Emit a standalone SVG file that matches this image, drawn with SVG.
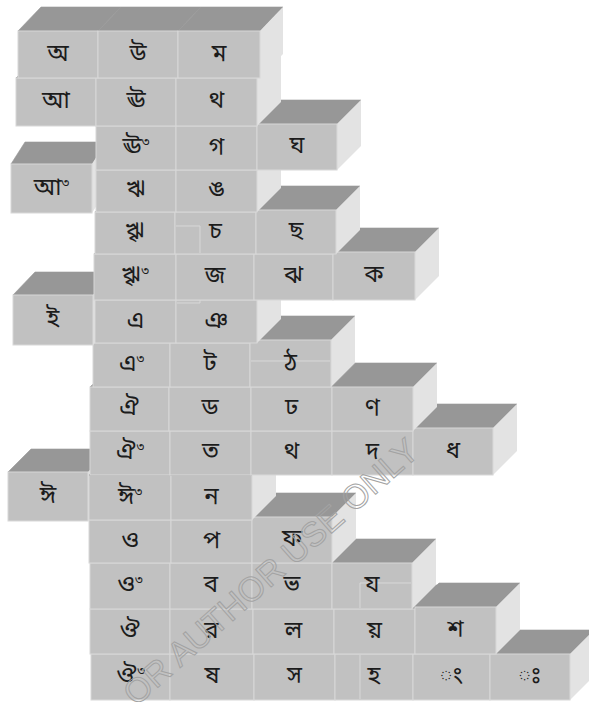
<svg xmlns="http://www.w3.org/2000/svg" width="589" height="702" viewBox="0 0 589 702">
<style>
.t{fill:#979797;stroke:#979797;stroke-width:0.6;stroke-linejoin:round}
.r{fill:#e3e3e3}
.f{fill:#c1c1c1;stroke:#d8d8d8;stroke-width:1}
.a{fill:none;stroke:#d8d8d8;stroke-width:1}
.l{font-family:"Noto Sans Bengali","Noto Serif Bengali","Lohit Bengali","Mukti","FreeSerif","Noto Sans",sans-serif;font-size:24px;fill:#1c1c1c;text-anchor:middle}
.s{font-size:13px}
.wm{font-family:"Liberation Sans",Arial,sans-serif;font-size:34px;fill:none;stroke:#a3a3a3;stroke-width:1}
</style>
<rect width="589" height="702" fill="#ffffff"/>
<!-- Row 15 -->
<g id="r15c1"><polygon class="t" points="91,654 170,654 194,630 115,630"/><rect class="f" x="91" y="654" width="79" height="46"/><text class="l" x="130.5" y="683">ঔ<tspan class="s" dy="-8">৩</tspan></text></g>
<g id="r15c2"><polygon class="t" points="170,654 254,654 278,630 194,630"/><rect class="f" x="170" y="654" width="84" height="46"/><text class="l" x="212" y="683">ষ</text></g>
<g id="r15c3"><polygon class="t" points="254,654 335,654 359,630 278,630"/><rect class="f" x="254" y="654" width="81" height="46"/><text class="l" x="294.5" y="683">স</text></g>
<g id="r15c4"><polygon class="t" points="335,654 413,654 437,630 359,630"/><rect class="f" x="335" y="654" width="78" height="46"/><line class="a" x1="360" y1="655" x2="360" y2="699"/><text class="l" x="374" y="683">হ</text></g>
<g id="r15c5"><polygon class="t" points="413,654 490,654 514,630 437,630"/><rect class="f" x="413" y="654" width="77" height="46"/><text class="l" x="451.5" y="683">◌ং</text></g>
<g id="r15c6"><polygon class="t" points="490,654 570,654 594,630 514,630"/><polygon class="r" points="570,654 594,630 594,676 570,700"/><rect class="f" x="490" y="654" width="80" height="46"/><text class="l" x="530" y="683">◌ঃ</text></g>
<!-- Row 14 -->
<g id="r14c1"><polygon class="t" points="90,609 170,609 194,585 114,585"/><rect class="f" x="90" y="609" width="80" height="45"/><text class="l" x="130" y="637.5">ঔ</text></g>
<g id="r14c2"><polygon class="t" points="170,609 253,609 277,585 194,585"/><rect class="f" x="170" y="609" width="83" height="45"/><text class="l" x="211.5" y="637.5">র</text></g>
<g id="r14c3"><polygon class="t" points="253,609 334,609 358,585 277,585"/><rect class="f" x="253" y="609" width="81" height="45"/><text class="l" x="293.5" y="637.5">ল</text></g>
<g id="r14c4"><polygon class="t" points="334,609 415,609 439,585 358,585"/><rect class="f" x="334" y="609" width="81" height="45"/><text class="l" x="374.5" y="637.5">য়</text></g>
<g id="r14c5"><polygon class="t" points="415,607 496,607 520,583 439,583"/><polygon class="r" points="496,607 520,583 520,630 496,654"/><rect class="f" x="415" y="607" width="81" height="47"/><text class="l" x="455.5" y="636.5">শ</text></g>
<!-- Row 13 -->
<g id="r13c1"><polygon class="t" points="90,563 170,563 194,539 114,539"/><rect class="f" x="90" y="563" width="80" height="46"/><text class="l" x="130" y="592">ও<tspan class="s" dy="-8">৩</tspan></text></g>
<g id="r13c2"><polygon class="t" points="170,563 252,563 276,539 194,539"/><rect class="f" x="170" y="563" width="82" height="46"/><text class="l" x="211" y="592">ব</text></g>
<g id="r13c3"><polygon class="t" points="252,563 332,563 356,539 276,539"/><rect class="f" x="252" y="563" width="80" height="46"/><text class="l" x="292" y="592">ভ</text></g>
<g id="r13c4"><polygon class="t" points="332,563 412,563 436,539 356,539"/><polygon class="r" points="412,563 436,539 436,585 412,609"/><rect class="f" x="332" y="563" width="80" height="46"/><polyline class="a" points="360,608 360,583 411,583"/><text class="l" x="372" y="592">য</text></g>
<!-- Row 12 -->
<g id="r12c1"><polygon class="t" points="89,520 171,520 195,496 113,496"/><rect class="f" x="89" y="520" width="82" height="43"/><text class="l" x="130" y="547.5">ও</text></g>
<g id="r12c2"><polygon class="t" points="171,520 252,520 276,496 195,496"/><rect class="f" x="171" y="520" width="81" height="43"/><text class="l" x="211.5" y="547.5">প</text></g>
<g id="r12c3"><polygon class="t" points="252,517 332,517 356,493 276,493"/><polygon class="r" points="332,517 356,493 356,539 332,563"/><rect class="f" x="252" y="517" width="80" height="46"/><text class="l" x="292" y="546">ফ</text></g>
<!-- Row 11 -->
<g id="r11c0"><polygon class="t" points="8,472 88,472 111,449 31,449"/><polygon class="r" points="88,472 111,449 111,498 88,521"/><rect class="f" x="8" y="472" width="80" height="49"/><text class="l" x="48" y="502.5">ঈ</text></g>
<g id="r11c1"><polygon class="t" points="89,475 171,475 195,451 113,451"/><rect class="f" x="89" y="475" width="82" height="45"/><text class="l" x="130" y="503.5">ঈ<tspan class="s" dy="-8">৩</tspan></text></g>
<g id="r11c2"><polygon class="t" points="171,475 252,475 276,451 195,451"/><polygon class="r" points="252,475 276,451 276,496 252,520"/><rect class="f" x="171" y="475" width="81" height="45"/><text class="l" x="211.5" y="503.5">ন</text></g>
<line x1="89" y1="475" x2="252" y2="475" stroke="#8e8e8e" stroke-width="1.2"/>
<!-- Row 10 -->
<g id="r10c1"><polygon class="t" points="90,431 170,431 194,407 114,407"/><rect class="f" x="90" y="431" width="80" height="44"/><text class="l" x="130" y="459">ঐ<tspan class="s" dy="-8">৩</tspan></text></g>
<g id="r10c2"><polygon class="t" points="170,431 251,431 275,407 194,407"/><rect class="f" x="170" y="431" width="81" height="44"/><text class="l" x="210.5" y="459">ত</text></g>
<g id="r10c3"><polygon class="t" points="251,431 332,431 356,407 275,407"/><rect class="f" x="251" y="431" width="81" height="44"/><text class="l" x="291.5" y="459">থ</text></g>
<g id="r10c4"><polygon class="t" points="332,431 413,431 437,407 356,407"/><rect class="f" x="332" y="431" width="81" height="44"/><text class="l" x="372.5" y="459">দ</text></g>
<g id="r10c5"><polygon class="t" points="413,428 493,428 517,404 437,404"/><polygon class="r" points="493,428 517,404 517,451 493,475"/><rect class="f" x="413" y="428" width="80" height="47"/><text class="l" x="453" y="457.5">ধ</text></g>
<!-- Row 9 -->
<g id="r9c1"><polygon class="t" points="90,387 169,387 193,363 114,363"/><rect class="f" x="90" y="387" width="79" height="44"/><text class="l" x="129.5" y="415">ঐ</text></g>
<g id="r9c2"><polygon class="t" points="169,387 251,387 275,363 193,363"/><rect class="f" x="169" y="387" width="82" height="44"/><text class="l" x="210" y="415">ড</text></g>
<g id="r9c3"><polygon class="t" points="251,387 332,387 356,363 275,363"/><rect class="f" x="251" y="387" width="81" height="44"/><text class="l" x="291.5" y="415">ঢ</text></g>
<g id="r9c4"><polygon class="t" points="332,387 413,387 437,363 356,363"/><polygon class="r" points="413,387 437,363 437,407 413,431"/><rect class="f" x="332" y="387" width="81" height="44"/><text class="l" x="372.5" y="415">ণ</text></g>
<!-- Row 8 -->
<g id="r8c1"><polygon class="t" points="93,343 170,343 194,319 117,319"/><rect class="f" x="93" y="343" width="77" height="44"/><text class="l" x="131.5" y="371">এ<tspan class="s" dy="-8">৩</tspan></text></g>
<g id="r8c2"><polygon class="t" points="170,343 250,343 274,319 194,319"/><rect class="f" x="170" y="343" width="80" height="44"/><text class="l" x="210" y="371">ট</text></g>
<g id="r8c3"><polygon class="t" points="250,340 331,340 355,316 274,316"/><polygon class="r" points="331,340 355,316 355,363 331,387"/><rect class="f" x="250" y="340" width="81" height="47"/><line class="a" x1="251" y1="361" x2="330" y2="361"/><text class="l" x="290.5" y="369.5">ঠ</text></g>
<!-- Row 7 -->
<g id="r7c0"><polygon class="t" points="13,295 93,295 115,272 35,272"/><polygon class="r" points="93,295 115,272 115,322 93,345"/><rect class="f" x="13" y="295" width="80" height="50"/><text class="l" x="53" y="326">ই</text></g>
<g id="r7c1"><polygon class="t" points="95,300 176,300 200,276 119,276"/><rect class="f" x="95" y="300" width="81" height="43"/><text class="l" x="135.5" y="327.5">এ</text></g>
<g id="r7c2"><polygon class="t" points="176,300 257,300 281,276 200,276"/><polygon class="r" points="257,300 281,276 281,319 257,343"/><rect class="f" x="176" y="300" width="81" height="43"/><text class="l" x="216.5" y="327.5">ঞ</text></g>
<!-- Row 6 -->
<g id="r6c1"><polygon class="t" points="94,254 176,254 200,230 118,230"/><rect class="f" x="94" y="254" width="82" height="46"/><text class="l" x="135" y="283">ৠ<tspan class="s" dy="-8">৩</tspan></text></g>
<g id="r6c2"><polygon class="t" points="176,254 254,254 278,230 200,230"/><rect class="f" x="176" y="254" width="78" height="46"/><polyline class="a" points="177,303 200,303 200,300"/><text class="l" x="215" y="283">জ</text></g>
<g id="r6c3"><polygon class="t" points="254,254 333,254 357,230 278,230"/><rect class="f" x="254" y="254" width="79" height="46"/><text class="l" x="293.5" y="283">ঝ</text></g>
<g id="r6c4"><polygon class="t" points="333,252 415,252 439,228 357,228"/><polygon class="r" points="415,252 439,228 439,276 415,300"/><rect class="f" x="333" y="252" width="82" height="48"/><text class="l" x="374" y="282">ক</text></g>
<!-- Row 5 -->
<g id="r5c1"><polygon class="t" points="95,212 175,212 199,188 119,188"/><rect class="f" x="95" y="212" width="80" height="42"/><text class="l" x="135" y="239">ৠ</text></g>
<g id="r5c2"><polygon class="t" points="175,212 256,212 280,188 199,188"/><rect class="f" x="175" y="212" width="81" height="42"/><polyline class="a" points="176,226 200,226 200,253"/><text class="l" x="215.5" y="239">চ</text></g>
<g id="r5c3"><polygon class="t" points="256,210 336,210 360,186 280,186"/><polygon class="r" points="336,210 360,186 360,230 336,254"/><rect class="f" x="256" y="210" width="80" height="44"/><text class="l" x="296" y="238">ছ</text></g>
<!-- Row 4 -->
<g id="r4c0"><polygon class="t" points="11,164 92,164 106,142 25,142"/><polygon class="r" points="92,164 106,142 106,191 92,213"/><rect class="f" x="11" y="164" width="81" height="49"/><text class="l" x="51.5" y="194.5">আ<tspan class="s" dy="-8">৩</tspan></text></g>
<g id="r4c1"><polygon class="t" points="96,170 176,170 200,146 120,146"/><rect class="f" x="96" y="170" width="80" height="42"/><text class="l" x="136" y="197">ঋ</text></g>
<g id="r4c2"><polygon class="t" points="176,170 257,170 281,146 200,146"/><polygon class="r" points="257,170 281,146 281,188 257,212"/><rect class="f" x="176" y="170" width="81" height="42"/><text class="l" x="216.5" y="197">ঙ</text></g>
<!-- Row 3 -->
<g id="r3c1"><polygon class="t" points="96,126 176,126 200,102 120,102"/><rect class="f" x="96" y="126" width="80" height="44"/><text class="l" x="136" y="154">ঊ<tspan class="s" dy="-8">৩</tspan></text></g>
<g id="r3c2"><polygon class="t" points="176,126 257,126 281,102 200,102"/><rect class="f" x="176" y="126" width="81" height="44"/><text class="l" x="216.5" y="154">গ</text></g>
<g id="r3c3"><polygon class="t" points="257,124 337,124 361,100 281,100"/><polygon class="r" points="337,124 361,100 361,146 337,170"/><rect class="f" x="257" y="124" width="80" height="46"/><text class="l" x="297" y="153">ঘ</text></g>
<!-- Row 2 -->
<g id="r2c1"><polygon class="t" points="16,78 96,78 120,54 40,54"/><rect class="f" x="16" y="78" width="80" height="48"/><text class="l" x="56" y="108">আ</text></g>
<g id="r2c2"><polygon class="t" points="96,78 176,78 200,54 120,54"/><rect class="f" x="96" y="78" width="80" height="48"/><text class="l" x="136" y="108">ঊ</text></g>
<g id="r2c3"><polygon class="t" points="176,78 257,78 281,54 200,54"/><polygon class="r" points="257,78 281,54 281,102 257,126"/><rect class="f" x="176" y="78" width="81" height="48"/><text class="l" x="216.5" y="108">থ</text></g>
<!-- Row 1 -->
<g id="r1c1"><polygon class="t" points="18,31 98,31 121,7 41,7"/><rect class="f" x="18" y="31" width="80" height="47"/><text class="l" x="58" y="60.5">অ</text></g>
<g id="r1c2"><polygon class="t" points="98,31 178,31 201,7 121,7"/><rect class="f" x="98" y="31" width="80" height="47"/><text class="l" x="138" y="60.5">উ</text></g>
<g id="r1c3"><polygon class="t" points="178,31 260,31 283,7 201,7"/><polygon class="r" points="260,31 283,7 283,54 260,78"/><rect class="f" x="178" y="31" width="82" height="47"/><text class="l" x="219" y="60.5">ম</text></g>
<text class="wm" text-anchor="end" transform="translate(421,454) rotate(-41.6)">OR AUTHOR USE ONLY</text>
</svg>
